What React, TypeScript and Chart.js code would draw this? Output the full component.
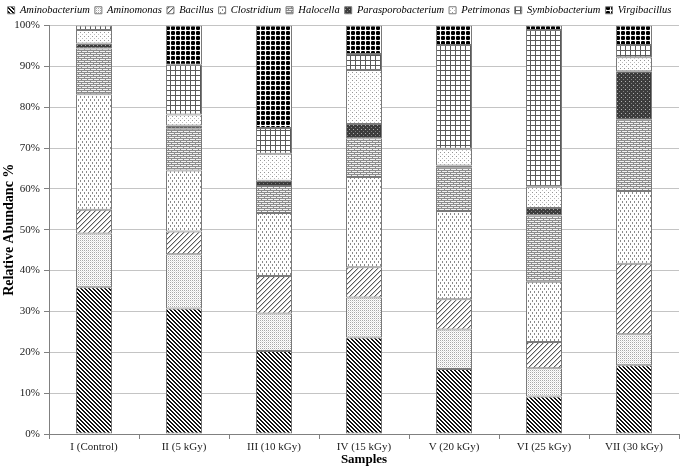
import { useEffect, useRef } from 'react';
import { Chart, registerables } from 'chart.js';

Chart.register(...registerables);

const categories = ['I (Control)', 'II (5 kGy)', 'III (10 kGy)', 'IV (15 kGy)', 'V (20 kGy)', 'VI (25 kGy)', 'VII (30 kGy)'];
const aminobacterium = [35.9, 30.7, 20.3, 23.6, 15.9, 9.2, 16.8];
const aminomonas = [13.2, 13.3, 9.2, 9.8, 9.7, 6.9, 7.6];
const bacillus = [5.8, 5.6, 9.2, 7.4, 7.4, 6.4, 17.3];
const clostridium = [28.3, 14.9, 15.4, 22.1, 21.6, 14.8, 17.8];
const halocella = [11.2, 10.2, 6.6, 9.5, 10.6, 16.2, 17.4];
const parasporobacterium = [1.2, 0.8, 1.3, 3.5, 0.5, 1.8, 11.9];
const petrimonas = [3.3, 2.7, 6.6, 13.2, 4.1, 5.2, 3.4];
const symbiobacterium = [1.1, 12.2, 6.3, 3.9, 25.4, 38.4, 3.0];
const virgibacillus = [0.0, 9.6, 25.1, 7.0, 4.8, 1.1, 4.8];

const seriesNames = ['Aminobacterium', 'Aminomonas', 'Bacillus', 'Clostridium', 'Halocella', 'Parasporobacterium', 'Petrimonas', 'Symbiobacterium', 'Virgibacillus'];
const seriesValues = [aminobacterium, aminomonas, bacillus, clostridium, halocella, parasporobacterium, petrimonas, symbiobacterium, virgibacillus];

const yTicks = [0, 10, 20, 30, 40, 50, 60, 70, 80, 90, 100];

const SERIF = "'Liberation Serif', 'Times New Roman', serif";

type PixFn = (x: number, y: number) => string | null;

function makePattern(w: number, h: number, bg: string, fn: PixFn): CanvasPattern {
  const c = document.createElement('canvas');
  c.width = w;
  c.height = h;
  const ctx = c.getContext('2d')!;
  ctx.fillStyle = bg;
  ctx.fillRect(0, 0, w, h);
  for (let y = 0; y < h; y++) {
    for (let x = 0; x < w; x++) {
      const col = fn(x, y);
      if (col) {
        ctx.fillStyle = col;
        ctx.fillRect(x, y, 1, 1);
      }
    }
  }
  return ctx.createPattern(c, 'repeat')!;
}

function buildPatterns(): CanvasPattern[] {
  return [
    // Aminobacterium: dense dark back-diagonal
    makePattern(4, 4, '#ffffff', (x, y) => ((x - y + 8) % 4 < 2 ? '#111111' : null)),
    // Aminomonas: fine light stipple
    makePattern(2, 2, '#ffffff', (x, y) => (x === 0 && y === 0 ? '#a8a8a8' : x === 1 && y === 1 ? '#e4e4e4' : null)),
    // Bacillus: forward diagonal
    makePattern(5, 5, '#ffffff', (x, y) => ((x + y) % 5 === 0 ? '#5a5a5a' : (x + y) % 5 === 1 ? '#c8c8c8' : null)),
    // Clostridium: staggered vertical dashes
    makePattern(4, 6, '#ffffff', (x, y) => ((x === 0 && y < 2) || (x === 2 && (y === 3 || y === 4)) ? '#8a8a8a' : null)),
    // Halocella: horizontal brick
    makePattern(6, 4, '#f2f2f2', (x, y) => (y === 0 || y === 2 || (y === 1 && x === 0) || (y === 3 && x === 3) ? '#8c8c8c' : null)),
    // Parasporobacterium: dark checker
    makePattern(4, 4, '#3c3c3c', (x, y) => (x === 1 && y === 1 ? '#b0b0b0' : x === 3 && y === 3 ? '#808080' : null)),
    // Petrimonas: sparse dots
    makePattern(4, 4, '#ffffff', (x, y) => (x === 0 && y === 0 ? '#959595' : x === 2 && y === 2 ? '#bdbdbd' : null)),
    // Symbiobacterium: grid
    makePattern(5, 5, '#ffffff', (x, y) => (x === 0 || y === 0 ? '#5a5a5a' : null)),
    // Virgibacillus: black rounded blocks
    makePattern(5, 5, '#ffffff', (x, y) => {
      if (x === 0 || y === 0) return null;
      if ((x === 1 || x === 4) && (y === 1 || y === 4)) return '#505050';
      return '#000000';
    }),
  ];
}

export default function App() {
  const canvasRef = useRef<HTMLCanvasElement | null>(null);

  useEffect(() => {
    const canvas = canvasRef.current;
    if (!canvas) return;
    const patterns = buildPatterns();
    Chart.defaults.font.family = SERIF;

    const chart = new Chart(canvas, {
      type: 'bar',
      data: {
        labels: categories,
        datasets: seriesNames.map((name, i) => ({
          label: name,
          data: seriesValues[i],
          backgroundColor: patterns[i],
          borderColor: '#7a7a7a',
          borderWidth: 1,
          borderSkipped: false,
          barPercentage: 0.4,
          categoryPercentage: 1.0,
        })),
      },
      options: {
        animation: false,
        responsive: false,
        devicePixelRatio: 1,
        layout: { padding: { left: 0, right: 6, top: 0, bottom: 0 } },
        plugins: {
          legend: {
            position: 'top',
            labels: {
              boxWidth: 7,
              boxHeight: 7,
              padding: 5,
              color: '#000',
              font: { family: SERIF, size: 10.5, style: 'italic' },
            },
          },
          title: { display: false },
          tooltip: { enabled: false },
        },
        scales: {
          x: {
            stacked: true,
            grid: {
              display: true,
              drawOnChartArea: false,
              drawTicks: true,
              tickLength: 5,
              offset: true,
              color: '#808080',
            },
            border: { color: '#808080' },
            ticks: { color: '#222', font: { family: SERIF, size: 11 }, padding: 2 },
            title: {
              display: true,
              text: 'Samples',
              color: '#000',
              font: { family: SERIF, size: 13, weight: 'bold' },
              padding: { top: 0, bottom: 4 },
            },
            afterFit: (s: any) => {
              s.height = 37;
            },
          },
          y: {
            stacked: true,
            min: 0,
            max: 100,
            afterBuildTicks: (s: any) => {
              s.ticks = yTicks.map((v) => ({ value: v }));
            },
            ticks: {
              color: '#222',
              font: { family: SERIF, size: 11 },
              padding: 4,
              callback: (v: any) => `${v}%`,
            },
            grid: { color: '#c4c4c4', tickColor: '#808080', tickLength: 5 },
            border: { color: '#808080' },
            title: {
              display: true,
              text: 'Relative Abundanc %',
              color: '#000',
              font: { family: SERIF, size: 14, weight: 'bold' },
              padding: { top: 1, bottom: 0 },
            },
            afterFit: (s: any) => {
              s.width = 49;
            },
          },
        },
      } as any,
    });
    return () => chart.destroy();
  }, []);

  return (
    <div style={{ position: 'absolute', left: 0, top: 0, width: 685, height: 471, background: '#fff' }}>
      <canvas ref={canvasRef} width={685} height={471} />
    </div>
  );
}
